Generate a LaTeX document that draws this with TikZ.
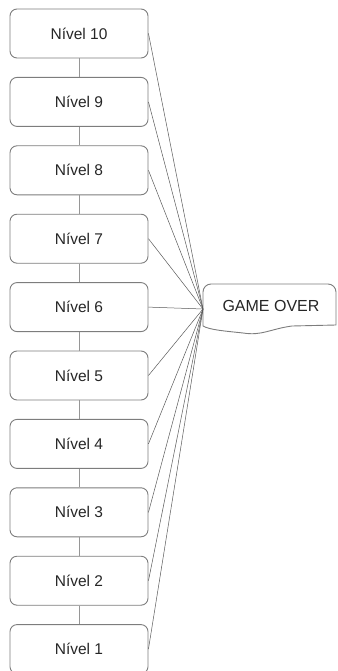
\documentclass[tikz,border=0pt]{standalone}
\usepackage{fontspec}
\setmainfont{Liberation Sans}
\begin{document}
\begin{tikzpicture}[x=1pt,y=-1pt,
  levelbox/.style={draw=boxgray, line width=0.9pt, rounded corners=7pt, minimum width=138pt, minimum height=49pt, inner sep=0pt, font=\fontsize{15.5}{18}\selectfont, text=black!85},
  vlink/.style={draw=linkgray, line width=0.9pt},
  golink/.style={draw=black!65, line width=0.5pt}]
\definecolor{boxgray}{RGB}{125,125,125}
\definecolor{linkgray}{RGB}{150,150,150}
\useasboundingbox (0,0) rectangle (337,671);
\foreach \k/\n in {0/10,1/9,2/8,3/7,4/6,5/5,6/4,7/3,8/2,9/1}{
  \node[levelbox] (b\n) at (79,{33.5+68.4*\k}) {Nível \n};
}
\foreach \a/\b in {10/9,9/8,8/7,7/6,6/5,5/4,4/3,3/2,2/1}{
  \draw[vlink] (b\a) -- (b\b);
}
% GAME OVER shape
\node[font=\fontsize{16}{19}\selectfont, text=black!85, inner sep=0pt] (go) at (271,306) {GAME OVER};
\coordinate (goL) at (203,309);
\draw[draw=boxgray, line width=0.9pt] (203,326) -- (203,292) arc[start angle=180, end angle=270, radius=8] -- (328,284) arc[start angle=270, end angle=360, radius=8] -- (336,325)
  -- (292,326) .. controls (270,329) and (262,336) .. (243,333) .. controls (225,331) and (210,330) .. (203,326) -- cycle;
\foreach \n in {10,9,8,7,6,5,4,3,2,1}{
  \draw[golink] (b\n.east) -- (goL);
}
\end{tikzpicture}
\end{document}
